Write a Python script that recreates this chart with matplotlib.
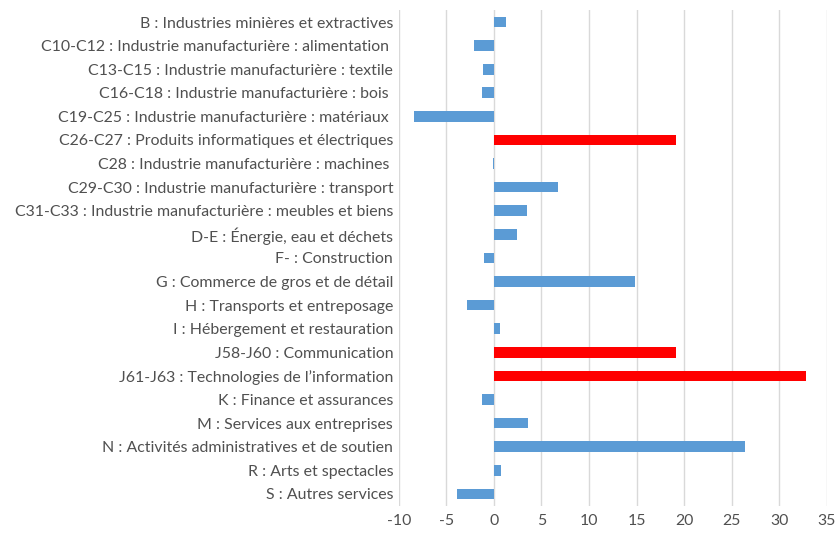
import matplotlib
matplotlib.use("Agg")
import matplotlib.pyplot as plt

secteurs = [
    "B : Industries minières et extractives",
    "C10-C12 : Industrie manufacturière : alimentation ",
    "C13-C15 : Industrie manufacturière : textile",
    "C16-C18 : Industrie manufacturière : bois ",
    "C19-C25 : Industrie manufacturière : matériaux ",
    "C26-C27 : Produits informatiques et électriques",
    "C28 : Industrie manufacturière : machines ",
    "C29-C30 : Industrie manufacturière : transport",
    "C31-C33 : Industrie manufacturière : meubles et biens",
    "D-E : Énergie, eau et déchets",
    "F- : Construction",
    "G : Commerce de gros et de détail",
    "H : Transports et entreposage",
    "I : Hébergement et restauration",
    "J58-J60 : Communication",
    "J61-J63 : Technologies de l\u2019information",
    "K : Finance et assurances",
    "M : Services aux entreprises",
    "N : Activités administratives et de soutien",
    "R : Arts et spectacles",
    "S : Autres services",
]
valeurs = [1.3, -2.1, -1.1, -1.25, -8.4, 19.1, -0.05, 6.7, 3.5, 2.4, -1.05,
           14.8, -2.8, 0.65, 19.1, 32.8, -1.25, 3.6, 26.4, 0.8, -3.9]
surligne = [5, 14, 15]  # secteurs numériques en rouge

couleurs = ["#FF0000" if i in surligne else "#5B9BD5" for i in range(len(valeurs))]

plt.rcParams['font.family'] = ['Lato', 'DejaVu Sans']
plt.rcParams['axes.unicode_minus'] = False

fig = plt.figure(figsize=(8.36, 5.38), dpi=100)
ax = fig.add_axes([0.477, 0.06, 0.512, 0.921])

ypos = list(range(len(valeurs)))
ax.barh(ypos, valeurs, height=0.45, color=couleurs, zorder=3)
ax.set_ylim(len(valeurs) - 0.5, -0.5)
ax.set_xlim(-10, 35)
ax.set_xticks(range(-10, 36, 5))
ax.set_yticks(ypos)
ax.set_yticklabels(secteurs)

ax.grid(axis='x', color='#D9D9D9', linewidth=1, zorder=0)
for s in ax.spines.values():
    s.set_visible(False)
ax.tick_params(axis='both', length=0, colors='#505050', labelsize=11.4)
ax.tick_params(axis='y', pad=4)
ax.tick_params(axis='x', pad=6)

fig.savefig("out.png", dpi=100)
